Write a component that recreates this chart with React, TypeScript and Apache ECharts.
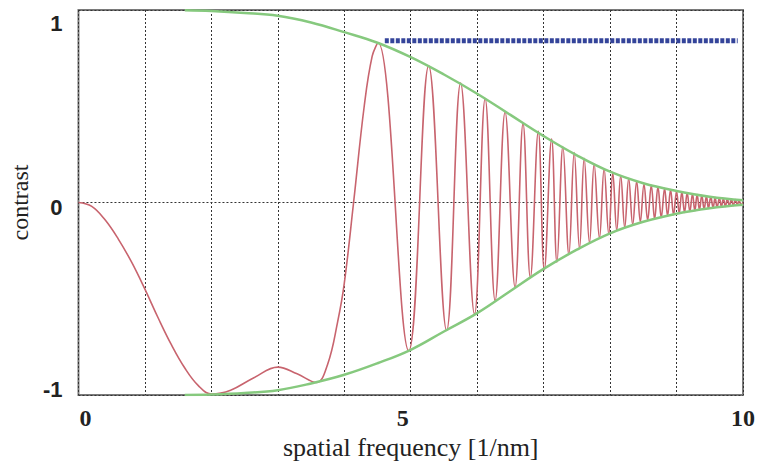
import React, { useEffect, useRef } from "react";
import * as echarts from "echarts";

// Upper / lower envelope (green) (hidden under the frame before ~1.6)
const envX = [1.6, 2, 2.5, 3, 3.5, 4, 4.5, 5, 5.5, 6, 6.5, 7, 7.5, 8, 8.5, 9, 9.5, 10];
const envUpper = [0.999, 0.995, 0.985, 0.97, 0.935, 0.885, 0.83, 0.755, 0.665, 0.565, 0.455, 0.345, 0.245, 0.16, 0.1, 0.06, 0.03, 0.012];
const envLower = [-1, -0.998, -0.99, -0.975, -0.94, -0.895, -0.835, -0.765, -0.67, -0.575, -0.46, -0.345, -0.245, -0.16, -0.1, -0.058, -0.03, -0.012];

// Oscillating contrast curve (red): read points, mostly extrema
const ctfX = [
  0, 0.2, 0.4, 0.6, 0.8, 1.0, 1.2, 1.4, 1.6, 1.8, 2.0, 2.29, 2.64, 3.0, 3.29, 3.58, 3.75, 3.9, 4.0, 4.14, 4.3, 4.42, 4.51,
  4.97, 5.27, 5.54, 5.75, 5.96, 6.12, 6.27, 6.42, 6.57, 6.69, 6.8, 6.92, 7.01, 7.12, 7.2, 7.29, 7.38, 7.46, 7.54, 7.61, 7.69,
  7.76, 7.84, 7.91, 7.98, 8.04, 8.1, 8.16, 8.22, 8.28, 8.34, 8.4, 8.455, 8.51, 8.565, 8.62, 8.67, 8.72, 8.77, 8.82, 8.865,
  8.91, 8.955, 9.0, 9.04, 9.08, 9.12, 9.16, 9.2, 9.24, 9.275, 9.31, 9.345, 9.38, 9.415, 9.45, 9.48, 9.515, 9.55, 9.58, 9.61,
  9.645, 9.675, 9.705, 9.735, 9.765, 9.795, 9.825, 9.855, 9.885, 9.915, 9.94, 9.97, 10,
];
const ctfY = [
  0, -0.02, -0.09, -0.19, -0.31, -0.45, -0.6, -0.74, -0.86, -0.95, -0.995, -0.975, -0.91, -0.855, -0.89, -0.935, -0.84, -0.62, -0.42, 0, 0.5, 0.76, 0.83,
  -0.77, 0.71, -0.665, 0.62, -0.58, 0.54, -0.51, 0.47, -0.44, 0.41, -0.39, 0.37, -0.35, 0.33, -0.31, 0.29, -0.27, 0.26, -0.24, 0.23, -0.21,
  0.2, -0.185, 0.175, -0.165, 0.155, -0.145, 0.14, -0.13, 0.125, -0.115, 0.11, -0.1, 0.095, -0.092, 0.09, -0.086, 0.082, -0.078, 0.074, -0.07,
  0.067, -0.064, 0.06, -0.057, 0.055, -0.052, 0.05, -0.047, 0.045, -0.043, 0.041, -0.039, 0.037, -0.035, 0.033, -0.031, 0.029, -0.028, 0.026, -0.025,
  0.023, -0.022, 0.021, -0.02, 0.019, -0.018, 0.017, -0.016, 0.015, -0.014, 0.013, -0.012, 0,
];

// Blue dotted marker line
const markX = [4.61, 9.92];
const markY = [0.84, 0.84];

const xTickLabels: Record<number, string> = { 0: "{a|0}", 5: "{b|5}", 10: "{c|10}" };
const yTickLabels: Record<string, string> = { "1": "{t|1}", "0": "{m|0}", "-1": "{d|-1}" };

export default function App() {
  const ref = useRef<HTMLDivElement>(null);
  useEffect(() => {
    if (!ref.current) return;
    const chart = echarts.init(ref.current, undefined, { renderer: "svg" });
    const xFont = { fontFamily: "Liberation Serif", fontWeight: "bold" as const, fontSize: 24, color: "#222" };
    const yFont = { fontFamily: "Liberation Sans", fontWeight: "bold" as const, fontSize: 22, color: "#222" };
    chart.setOption({
      animation: false,
      backgroundColor: "#ffffff",
      grid: { left: 73, right: 17, top: 10, bottom: 77, show: true, borderColor: "#7a7a7a", borderWidth: 2, backgroundColor: "transparent" },
      xAxis: {
        type: "value",
        min: 0,
        max: 10,
        interval: 1,
        axisLine: { show: false },
        axisTick: { show: false },
        splitLine: { show: true, lineStyle: { color: "#333", type: [2, 2], width: 1 } },
        axisLabel: {
          margin: 11,
          formatter: (v: number) => xTickLabels[v] ?? "",
          rich: {
            a: { ...xFont, padding: [0, 0, 0, 14] },
            b: { ...xFont, padding: [0, 16, 0, 0] },
            c: { ...xFont },
          },
          ...xFont,
        },
        name: "spatial frequency [1/nm]",
        nameLocation: "middle",
        nameGap: 37,
        nameTextStyle: { fontFamily: "Liberation Serif", fontSize: 26, color: "#222" },
      },
      yAxis: {
        type: "value",
        min: -1,
        max: 1,
        interval: 1,
        axisLine: { show: false },
        axisTick: { show: false },
        splitLine: { show: true, lineStyle: { color: "#333", type: [2, 2], width: 1 } },
        axisLabel: {
          margin: 16,
          formatter: (v: number) => yTickLabels[String(v)] ?? "",
          rich: {
            t: { ...yFont, padding: [26, 0, 0, 0] },
            m: { ...yFont, padding: [10, 0, 0, 0] },
            d: { ...yFont, padding: [0, 0, 12, 0] },
          },
          ...yFont,
        },
        name: "contrast",
        nameLocation: "middle",
        nameGap: 37,
        nameRotate: 90,
        nameTextStyle: { fontFamily: "Liberation Serif", fontSize: 24, color: "#222" },
      },
      series: [
        {
          type: "line",
          data: ctfX.map((x, i) => [x, ctfY[i]]),
          smooth: 0.4,
          showSymbol: false,
          lineStyle: { color: "#c8646e", width: 1.6 },
          z: 2,
        },
        {
          type: "line",
          data: envX.map((x, i) => [x, envUpper[i]]),
          smooth: 0.4,
          showSymbol: false,
          lineStyle: { color: "#86c97e", width: 2.5 },
          z: 3,
        },
        {
          type: "line",
          data: envX.map((x, i) => [x, envLower[i]]),
          smooth: 0.4,
          showSymbol: false,
          lineStyle: { color: "#86c97e", width: 2.5 },
          z: 3,
        },
        {
          type: "line",
          data: markX.map((x, i) => [x, markY[i]]),
          showSymbol: false,
          lineStyle: { color: "#34449a", width: 5, type: [4, 1.5] },
          z: 4,
        },
      ],
    });
    return () => chart.dispose();
  }, []);
  return <div ref={ref} style={{ position: "fixed", left: 0, top: 0, width: 760, height: 472 }} />;
}
